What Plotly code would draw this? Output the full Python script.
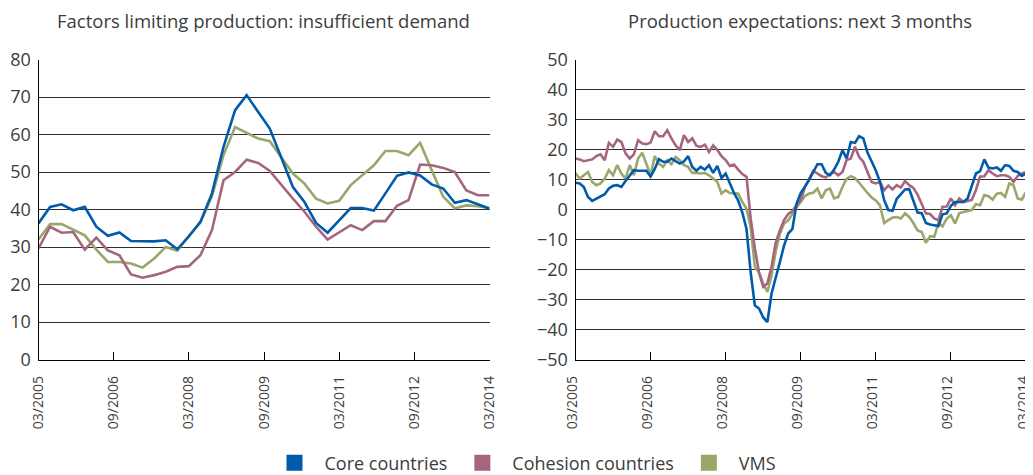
import numpy as np
import plotly.graph_objects as go

# ---------------- data ----------------
tick_labels = ["03/2005", "09/2006", "03/2008", "09/2009", "03/2011", "09/2012", "03/2014"]

# Left panel: factors limiting production - insufficient demand (%)
demand_core = [36.3, 40.7, 41.4, 39.8, 40.7, 35.4, 33.0, 33.9, 31.6, 31.6,
               31.5, 31.8, 29.4, 32.8, 36.7, 44.3, 56.7, 66.5, 70.5, 66.0,
               61.6, 53.8, 46.0, 42.0, 36.4, 33.8, 37.0, 40.4, 40.4, 39.7,
               44.3, 49.0, 49.9, 49.1, 46.7, 45.6, 41.8, 42.5, 41.4, 40.2]
demand_cohesion = [29.6, 35.4, 33.8, 34.0, 29.3, 32.5, 29.1, 27.8, 22.7, 21.8,
                   22.5, 23.4, 24.7, 24.9, 27.8, 34.5, 47.8, 50.0, 53.3, 52.4,
                   50.3, 46.5, 42.9, 39.4, 35.4, 32.0, 34.0, 35.8, 34.5, 36.9,
                   36.9, 41.0, 42.5, 52.0, 51.8, 51.1, 50.0, 45.1, 43.8, 43.8]
demand_vms = [32.0, 36.1, 36.1, 34.5, 33.1, 29.3, 26.0, 26.0, 25.6, 24.5,
              26.9, 30.0, 29.0, 33.0, 36.5, 43.5, 54.5, 62.0, 60.5, 58.9,
              58.2, 54.0, 49.6, 46.9, 42.9, 41.6, 42.3, 46.5, 49.1, 51.8,
              55.6, 55.6, 54.5, 57.8, 50.5, 43.4, 40.3, 41.1, 40.9, 40.4]

# Right panel: production expectations, next 3 months (balance)
expect_core = [8.9, 8.7, 7.5, 4.2, 2.9, 3.7, 4.4, 5.1, 7.0, 7.9,
               8.1, 7.5, 9.5, 11.4, 13.1, 12.9, 12.9, 12.9, 11.0, 13.5,
               16.8, 15.9, 15.9, 17.0, 16.1, 15.3, 16.0, 17.8, 14.2, 12.9,
               14.2, 13.3, 14.8, 12.2, 14.5, 10.5, 12.0, 8.7, 5.5, 3.0,
               -1.0, -6.5, -21.0, -32.0, -33.0, -36.0, -37.5, -28.0, -23.0, -17.5,
               -12.0, -8.0, -6.5, 2.0, 5.5, 7.5, 9.8, 12.5, 15.1, 15.1,
               12.2, 11.4, 13.3, 15.9, 19.8, 17.0, 22.5, 22.2, 24.4, 23.7,
               19.0, 16.0, 13.0, 9.2, 3.1, -0.2, -0.4, 3.5, 5.0, 6.7,
               6.8, 2.5, -1.0, -1.2, -4.5, -5.0, -5.3, -5.5, -1.6, -1.3,
               1.2, 2.5, 2.5, 2.5, 3.7, 7.5, 12.0, 12.8, 16.7, 14.0,
               13.7, 14.0, 12.9, 14.8, 14.5, 12.9, 12.5, 11.2, 12.0]
expect_cohesion = [17.0, 16.7, 16.1, 16.4, 16.7, 17.8, 18.4, 16.4, 22.2, 20.9,
                   23.3, 22.5, 18.7, 17.0, 18.4, 23.1, 22.0, 21.8, 22.3, 26.1,
                   24.4, 24.4, 26.4, 23.7, 21.4, 19.8, 24.8, 22.5, 23.7, 21.2,
                   20.9, 21.6, 19.2, 21.4, 19.8, 17.8, 16.5, 14.5, 15.0, 13.3,
                   11.8, 10.9, -3.0, -13.0, -21.0, -25.8, -24.7, -19.0, -11.0, -7.0,
                   -3.5, -1.5, -0.5, 1.5, 3.1, 7.5, 10.3, 12.9, 12.0, 11.1,
                   10.7, 11.8, 12.5, 11.4, 12.5, 16.5, 17.0, 20.9, 17.5, 15.9,
                   12.5, 9.2, 8.7, 9.2, 6.4, 8.0, 6.7, 8.1, 7.3, 9.5,
                   8.1, 7.2, 5.0, 2.0, -1.3, -1.5, -3.0, -3.6, 0.9, 1.0,
                   3.7, 1.4, 3.7, 2.5, 2.9, 3.2, 6.5, 11.0, 11.1, 13.1,
                   12.0, 11.1, 11.4, 11.4, 10.9, 9.2, 11.2, 12.0, 12.5]
expect_vms = [12.2, 10.3, 11.4, 12.5, 9.2, 8.1, 8.7, 10.3, 13.1, 11.4,
              14.8, 12.0, 10.3, 14.8, 11.4, 17.0, 18.9, 14.8, 11.4, 17.8,
              15.3, 14.2, 16.4, 15.1, 17.5, 16.4, 14.8, 14.2, 12.2, 12.2,
              12.0, 12.2, 11.4, 10.3, 9.2, 5.3, 6.4, 5.5, 5.5, 5.3,
              2.5, 0.3, -6.0, -19.1, -21.0, -24.7, -27.5, -22.0, -14.0, -8.0,
              -4.7, -3.6, -1.5, 0.8, 2.5, 4.5, 5.3, 5.6, 7.0, 3.7,
              6.4, 7.0, 3.7, 4.2, 7.5, 10.3, 11.1, 10.5, 8.9, 7.0,
              5.5, 4.0, 3.0, 1.4, -4.5, -3.5, -2.7, -2.5, -3.0, -1.3,
              -2.5, -4.5, -7.0, -7.5, -11.1, -8.9, -9.1, -4.5, -5.6, -3.0,
              -1.9, -4.7, -1.3, -0.8, -0.4, -0.2, 1.8, 1.4, 4.8, 4.4,
              3.3, 5.3, 5.5, 4.2, 8.7, 8.1, 3.7, 3.3, 5.9]

series_names = ["Core countries", "Cohesion countries", "VMS"]
colors = ["#005BAA", "#A5657F", "#9AA66B"]

# ---------------- figure ----------------
# the page body has an 8px margin, so the figure is placed 8px in from the corner
OFF = 8
W, H = 1033 - OFF, 475 - OFF
TXT = "#3c3c3c"
GRID = "#2e2e2e"
FONT = "Open Sans"

fig = go.Figure()

x_left = list(range(len(demand_core)))
x_right = list(range(len(expect_core)))

# draw VMS first, Core last (on top)
for name, col, yl, yr in list(zip(series_names, colors,
                                  [demand_core, demand_cohesion, demand_vms],
                                  [expect_core, expect_cohesion, expect_vms]))[::-1]:
    fig.add_trace(go.Scatter(x=x_left, y=yl, mode="lines", name=name,
                             line=dict(color=col, width=2.6), showlegend=False,
                             xaxis="x", yaxis="y"))
    fig.add_trace(go.Scatter(x=x_right, y=yr, mode="lines", name=name,
                             line=dict(color=col, width=2.6), showlegend=False,
                             xaxis="x2", yaxis="y2"))

for name, col in zip(series_names, colors):
    fig.add_trace(go.Scatter(x=[None], y=[None], mode="markers", name=name,
                             marker=dict(symbol="square", size=16, color=col),
                             showlegend=True, xaxis="x", yaxis="y"))


def px_x(p):
    return (p - OFF) / W


def px_y(p):
    return 1 - (p - OFF) / H


ydom = [px_y(359.5), px_y(59.5)]

xaxis_common = dict(
    showgrid=False, showline=True, linecolor="#000000", linewidth=1,
    ticks="inside", ticklen=8, tickcolor="#000000", tickwidth=1,
    tickangle=-90, tickfont=dict(family=FONT, size=14, color=TXT),
    ticklabelstandoff=10, ticklabeloverflow="allow",
    zeroline=False, ticktext=tick_labels, automargin=False,
)
yaxis_common = dict(
    showgrid=True, gridcolor=GRID, gridwidth=1, showline=True,
    linecolor="#000000", linewidth=1, ticks="", zeroline=False,
    tickfont=dict(family=FONT, size=18, color=TXT), dtick=10,
    ticklabelstandoff=3, automargin=False,
)

fig.update_layout(
    width=W, height=H,
    margin=dict(l=0, r=0, t=0, b=0, autoexpand=False),
    paper_bgcolor="white", plot_bgcolor="white",
    font=dict(family=FONT, color=TXT),
    xaxis=dict(domain=[px_x(38.5), px_x(489.5)], range=[0, len(x_left) - 1],
               tickvals=list(np.linspace(0, len(x_left) - 1, len(tick_labels))),
               anchor="y", **xaxis_common),
    yaxis=dict(domain=ydom, range=[0, 80], anchor="x", **yaxis_common),
    xaxis2=dict(domain=[px_x(575.5), px_x(1026)], range=[0, len(x_right) - 1],
                tickvals=list(np.linspace(0, len(x_right) - 1, len(tick_labels))),
                anchor="y2", ticklabelshift=-3, **xaxis_common),
    yaxis2=dict(domain=ydom, range=[-50, 50], anchor="x2", **yaxis_common),
    legend=dict(orientation="h", x=px_x(523), xanchor="center", y=px_y(463),
                yanchor="middle", font=dict(family=FONT, size=18, color=TXT),
                itemsizing="trace", itemwidth=50, bgcolor="rgba(0,0,0,0)"),
    showlegend=True,
    annotations=[
        dict(text="Factors limiting production: insufficient demand",
             x=px_x(263), y=px_y(21), xref="paper", yref="paper",
             showarrow=False, xanchor="center", yanchor="middle",
             font=dict(family=FONT, size=18.5, color=TXT)),
        dict(text="Production expectations: next 3 months",
             x=px_x(800), y=px_y(21), xref="paper", yref="paper",
             showarrow=False, xanchor="center", yanchor="middle",
             font=dict(family=FONT, size=18.5, color=TXT)),
    ],
)

fig.write_html("out.html")
